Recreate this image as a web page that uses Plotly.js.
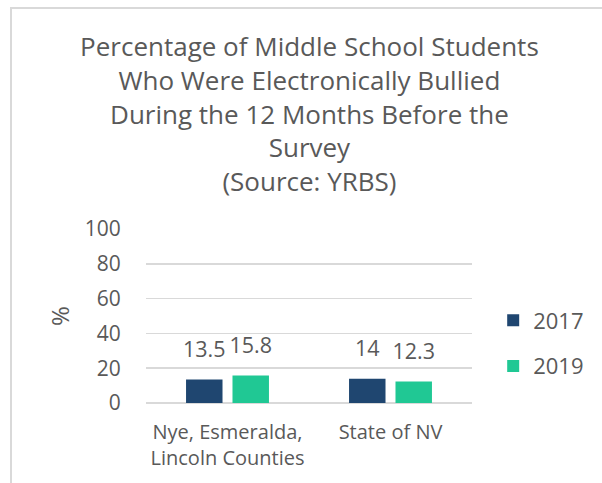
<!DOCTYPE html>
<html>
<head>
<meta charset="utf-8">
<script src="https://cdn.plot.ly/plotly-3.0.1.min.js"></script>
<style>
html,body{margin:0;padding:0;background:#fff;}
#wrap{position:relative;width:602px;height:483px;overflow:hidden;}
#chart{position:absolute;left:0;top:0;width:602px;height:483px;}
#frame{position:absolute;left:10px;top:7px;right:-5px;bottom:-5px;border-left:2px solid #d9d9d9;border-top:2px solid #d9d9d9;pointer-events:none;}
</style>
</head>
<body>
<div id="wrap"><div id="chart"></div><div id="frame"></div></div>
<script>
const categories = ["Nye, Esmeralda,<br>Lincoln Counties", "State of NV"];
const years = ["2017", "2019"];
const values2017 = [13.5, 14];
const values2019 = [15.8, 12.3];
const yTicks = [0, 20, 40, 60, 80, 100];
const colors = ["#1f4670", "#20c894"];
const series = [values2017, values2019];
const FONT = "Open Sans, Noto Sans, sans-serif";
const TXT = "#595959";

const traces = [];
series.forEach((vals, i) => {
  traces.push({
    type: "bar", name: years[i], x: categories, y: vals,
    marker: {color: colors[i]}, offsetgroup: years[i],
    legendgroup: years[i], hoverinfo: "skip"
  });
});
series.forEach((vals, i) => {
  traces.push({
    type: "scatter", mode: "markers+text", x: categories, y: vals,
    text: vals.map(String), textposition: "top center",
    textfont: {family: FONT, size: 21.5, color: TXT},
    marker: {size: 26, opacity: 0}, offsetgroup: years[i],
    showlegend: false, hoverinfo: "skip", cliponaxis: false
  });
});

const layout = {
  width: 602, height: 483,
  margin: {l: 146, r: 130, t: 229, b: 80},
  paper_bgcolor: "rgba(0,0,0,0)", plot_bgcolor: "rgba(0,0,0,0)",
  font: {family: FONT, color: TXT},
  title: {
    text: "Percentage of Middle School Students<br>Who Were Electronically Bullied<br>During the 12 Months Before the<br>Survey<br>(Source: YRBS)",
    font: {family: FONT, size: 26, color: TXT},
    x: 0.514, xanchor: "center", xref: "container",
    y: 0.884, yanchor: "middle", yref: "container"
  },
  barmode: "group", bargap: 0.43, bargroupgap: 0.215,
  scattermode: "group", scattergap: 0.43,
  xaxis: {
    type: "category", showgrid: false, zeroline: false, showline: false,
    ticks: "outside", ticklen: 11, tickcolor: "rgba(0,0,0,0)",
    tickfont: {family: FONT, size: 20, color: TXT}, fixedrange: true
  },
  yaxis: {
    range: [0, 100], tickvals: yTicks, ticktext: yTicks.map(String),
    showgrid: true, gridcolor: "#d9d9d9", gridwidth: 1.5,
    zeroline: true, zerolinecolor: "#d9d9d9", zerolinewidth: 1.5, showline: false,
    ticks: "outside", ticklen: 20, tickcolor: "rgba(0,0,0,0)",
    tickfont: {family: FONT, size: 21, color: TXT},
    title: {text: "%", font: {family: FONT, size: 24, color: TXT}, standoff: 8},
    automargin: false, fixedrange: true
  },
  showlegend: true,
  legend: {
    x: 1.065, xanchor: "left", y: 0.342, yanchor: "middle",
    font: {family: FONT, size: 22, color: TXT},
    tracegroupgap: 14, bgcolor: "rgba(0,0,0,0)"
  }
};

Plotly.newPlot("chart", traces, layout, {displayModeBar: false, staticPlot: true});
</script>
</body>
</html>
